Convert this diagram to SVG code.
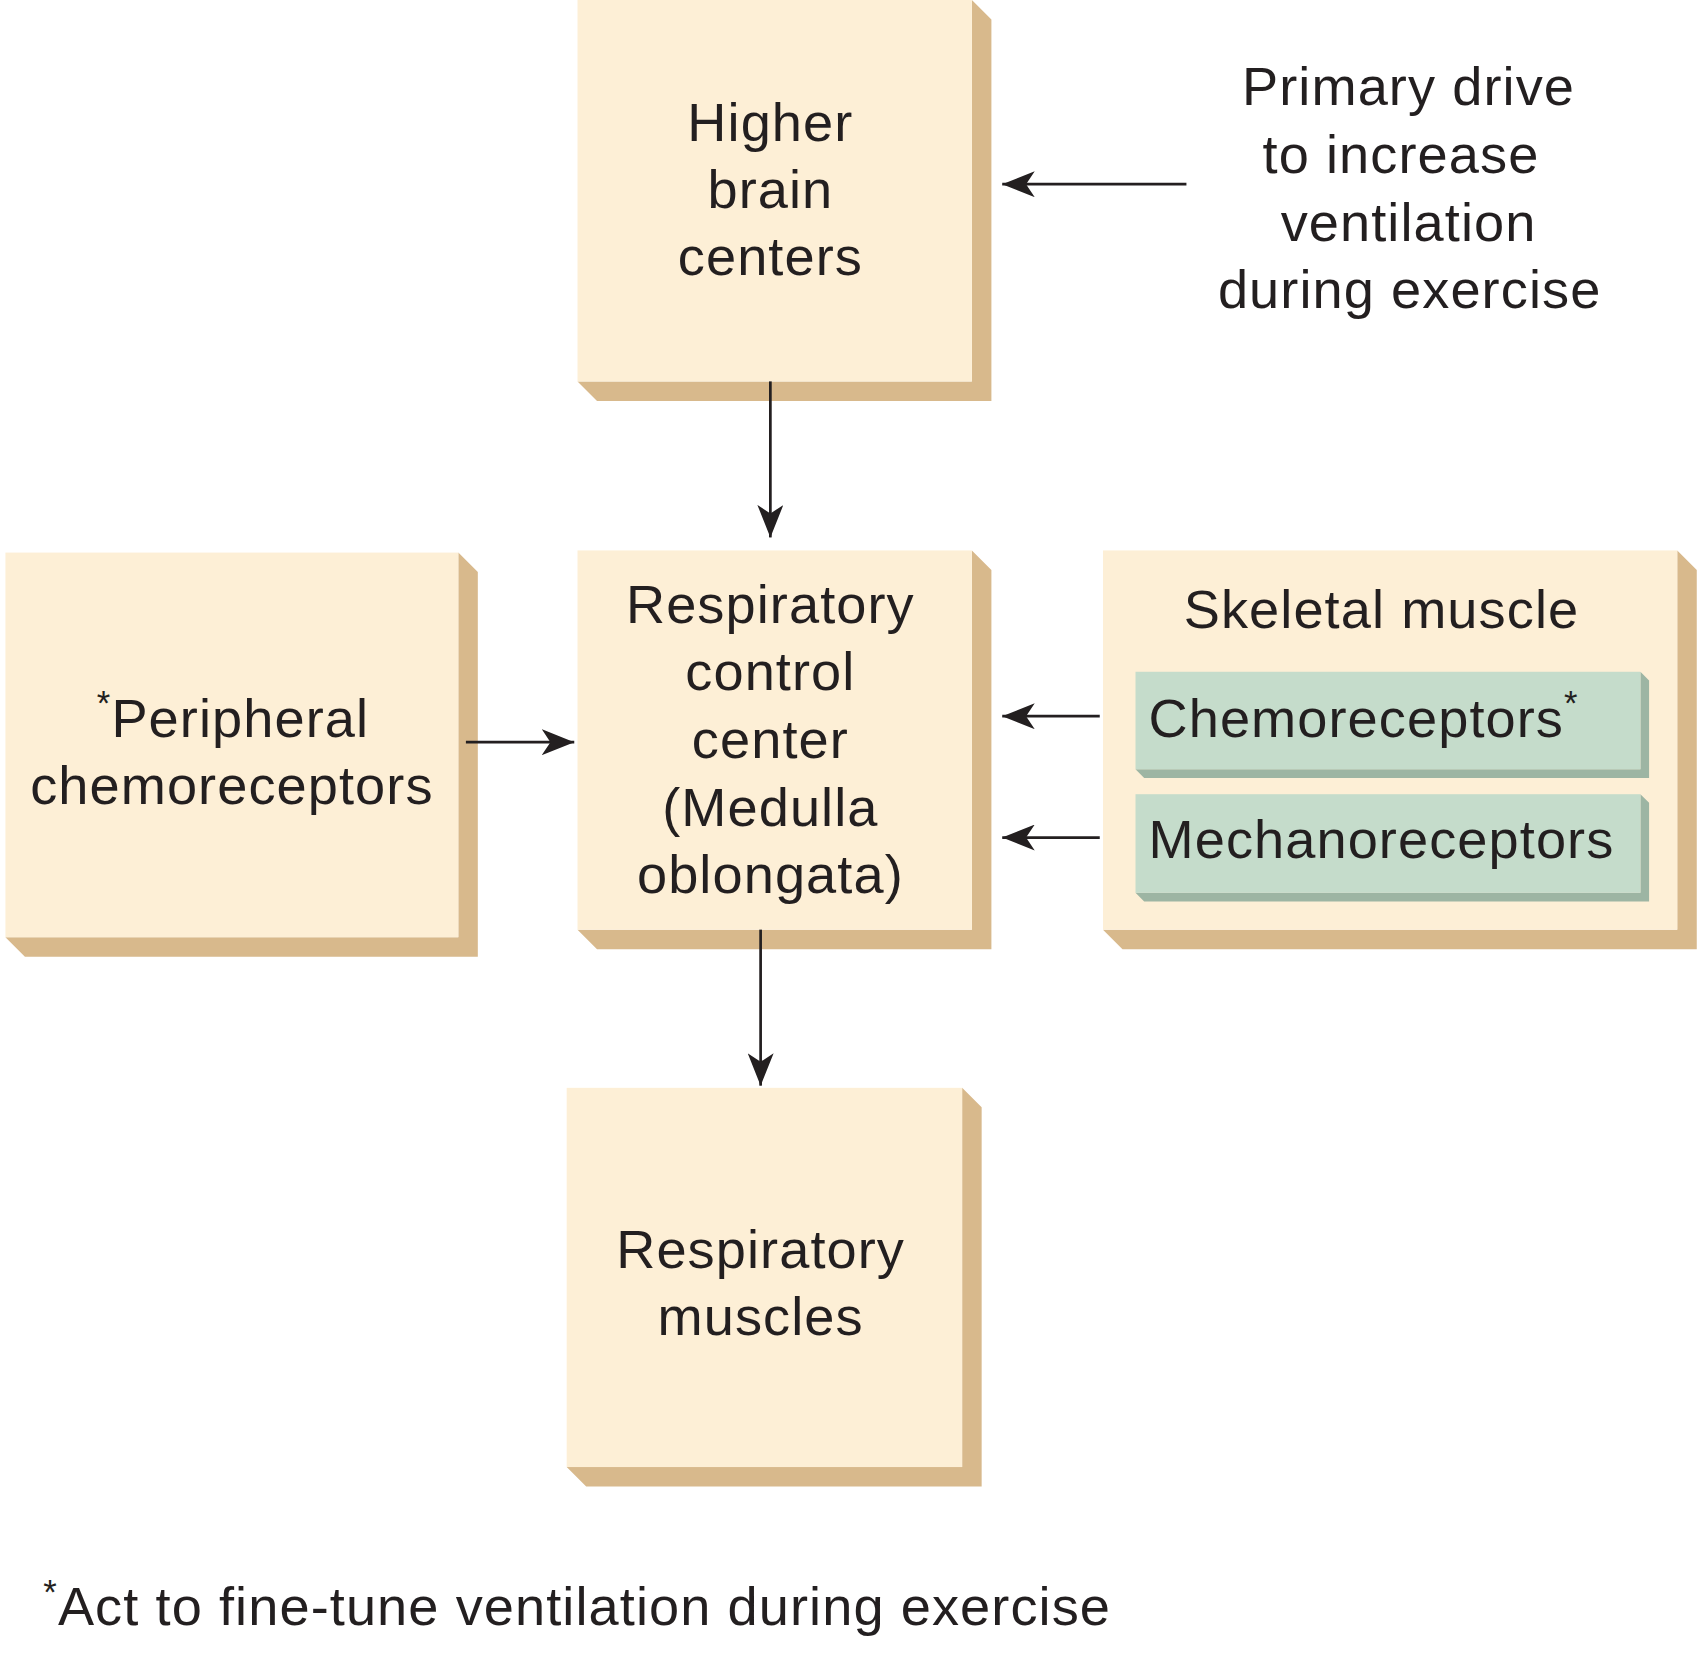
<svg xmlns="http://www.w3.org/2000/svg" width="1699" height="1654" viewBox="0 0 1699 1654">
<style>
.f{fill:#fdefd6}
.s{fill:#d8b98c}
.gf{fill:#c5dccb}
.gs{fill:#9db5a3}
text{font-family:"Liberation Sans",Arial,sans-serif;font-size:50px;fill:#231f20;letter-spacing:1px}
.c{text-anchor:middle}
.sup{font-size:32px}
.ln{stroke:#231f20;stroke-width:2.5;fill:none;marker-end:url(#ah)}
</style>
<defs>
<marker id="ah" markerUnits="userSpaceOnUse" markerWidth="32" markerHeight="24" refX="30" refY="12" orient="auto">
<path d="M0,0 L30,12 L0,24 L8,12 z" fill="#231f20"/>
</marker>
</defs>
<rect width="1699" height="1654" fill="#fff"/>
<g transform="scale(1.0835)">
<g id="higher">
<polygon class="s" points="897,0 915,18 915,370 551,370 533,352 897,352"/>
<rect class="f" x="533" y="0" width="364" height="352"/>
<text class="c" x="711" y="130">Higher</text>
<text class="c" x="711" y="192">brain</text>
<text class="c" x="711" y="254">centers</text>
</g>
<g id="primary">
<text class="c" x="1300" y="97">Primary drive</text>
<text class="c" x="1293" y="160">to increase</text>
<text class="c" x="1300" y="222">ventilation</text>
<text class="c" x="1301" y="284">during exercise</text>
</g>
<g id="control">
<polygon class="s" points="897,508 915,526 915,876 551,876 533,858 897,858"/>
<rect class="f" x="533" y="508" width="364" height="350"/>
<text class="c" x="711" y="575">Respiratory</text>
<text class="c" x="711" y="637">control</text>
<text class="c" x="711" y="700">center</text>
<text class="c" x="711" y="762">(Medulla</text>
<text class="c" x="711" y="824">oblongata)</text>
</g>
<g id="peripheral">
<polygon class="s" points="423,510 441,528 441,883 23,883 5,865 423,865"/>
<rect class="f" x="5" y="510" width="418" height="355"/>
<text class="c" x="215" y="680"><tspan class="sup" dy="-20">*</tspan><tspan dy="20">Peripheral</tspan></text>
<text class="c" x="214" y="742">chemoreceptors</text>
</g>
<g id="skeletal">
<polygon class="s" points="1548,508 1566,526 1566,876 1036,876 1018,858 1548,858"/>
<rect class="f" x="1018" y="508" width="530" height="350"/>
<text class="c" x="1275" y="580">Skeletal muscle</text>
<g id="chemo">
<polygon class="gs" points="1514,620 1522,628 1522,718 1056,718 1048,710 1514,710"/>
<rect class="gf" x="1048" y="620" width="466" height="90"/>
<text x="1060" y="680">Chemoreceptors<tspan class="sup" dy="-20">*</tspan></text>
</g>
<g id="mechano">
<polygon class="gs" points="1514,733 1522,741 1522,832 1056,832 1048,824 1514,824"/>
<rect class="gf" x="1048" y="733" width="466" height="91"/>
<text x="1060" y="792">Mechanoreceptors</text>
</g>
</g>
<g id="muscles">
<polygon class="s" points="888,1004 906,1022 906,1372 541,1372 523,1354 888,1354"/>
<rect class="f" x="523" y="1004" width="365" height="350"/>
<text class="c" x="702" y="1170">Respiratory</text>
<text class="c" x="702" y="1232">muscles</text>
</g>
<g id="footnote">
<text x="40" y="1500"><tspan class="sup" dy="-20">*</tspan><tspan dy="20">Act to fine-tune ventilation during exercise</tspan></text>
</g>
<g id="connectors">
<line class="ln" x1="1095" y1="170" x2="925" y2="170"/>
<line class="ln" x1="711" y1="352" x2="711" y2="496"/>
<line class="ln" x1="430" y1="685" x2="530" y2="685"/>
<line class="ln" x1="1015" y1="661" x2="925" y2="661"/>
<line class="ln" x1="1015" y1="773" x2="925" y2="773"/>
<line class="ln" x1="702" y1="858" x2="702" y2="1002"/>
</g>
</g>
</svg>
